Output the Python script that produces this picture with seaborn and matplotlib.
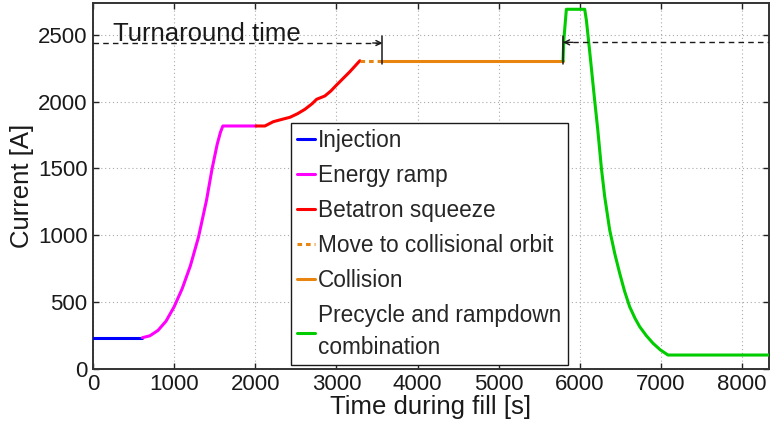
import numpy as np
import pandas as pd
import matplotlib
matplotlib.use("Agg")
import matplotlib.pyplot as plt
import seaborn as sns

# ---------------- data ----------------
phases = ["Injection", "Energy ramp", "Betatron squeeze",
          "Move to collisional orbit", "Collision",
          "Precycle and rampdown\ncombination"]

inj_t = [0, 608]
inj_i = [231, 231]

ramp_t = [608, 700, 800, 900, 1000, 1100, 1200, 1300, 1400, 1466, 1530, 1570, 1600, 2010]
ramp_i = [231, 245, 285, 355, 463, 600, 770, 985, 1265, 1493, 1680, 1770, 1818, 1818]

sq_t = [2010, 2118, 2221, 2330, 2426, 2520, 2611, 2700, 2755, 2857, 2930, 3001, 3165, 3288]
sq_i = [1818, 1818, 1850, 1868, 1883, 1910, 1943, 1985, 2018, 2043, 2080, 2125, 2225, 2307]

move_t = [3288, 3567]
move_i = [2307, 2307]

coll_t = [3567, 5792]
coll_i = [2307, 2307]

prec_t = [5792, 5800, 5833, 6059, 6080, 6130, 6180, 6220, 6265, 6305, 6367, 6430,
          6490, 6550, 6613, 6680, 6737, 6820, 6901, 6990, 7085, 8330]
prec_i = [2307, 2450, 2693, 2693, 2610, 2320, 2020, 1790, 1500, 1290, 1038, 860,
          714, 580, 463, 375, 313, 245, 189, 140, 101, 101]

# turnaround-time annotation
ta_left_end = 3567
ta_right_start = 5792
ta_arrow_level = 2440
ta_bar_lo, ta_bar_hi = 2285, 2490
ta_text = "Turnaround time"
ta_text_pos = (243, 2455)

x_ticks = [0, 1000, 2000, 3000, 4000, 5000, 6000, 7000, 8000]
y_ticks = [0, 500, 1000, 1500, 2000, 2500]
x_max = 8330
y_max = 2740

colors = ["#0000ff", "#ff00ff", "#ff0000", "#e8850f", "#e8850f", "#00cc00"]

# ---------------- frame ----------------
segs = [(inj_t, inj_i), (ramp_t, ramp_i), (sq_t, sq_i),
        (move_t, move_i), (coll_t, coll_i), (prec_t, prec_i)]
rows = []
for name, (t, i) in zip(phases, segs):
    for a, b in zip(t, i):
        rows.append({"time": a, "current": b, "phase": name})
df = pd.DataFrame(rows)

sns.set_theme(style="ticks")
plt.rcParams["font.family"] = ["Liberation Sans", "DejaVu Sans"]

fig = plt.figure(figsize=(7.7, 4.23), dpi=100)
ax = fig.add_axes([93 / 770, 1 - 368.5 / 423, (769 - 93) / 770, (368.5 - 3) / 423])

palette = dict(zip(phases, colors))
dashes = {p: "" for p in phases}
dashes["Move to collisional orbit"] = (1.5, 1.3)

sns.lineplot(data=df, x="time", y="current", hue="phase", style="phase",
             hue_order=phases, style_order=phases, palette=palette,
             dashes=dashes, estimator=None, sort=False, units="phase",
             linewidth=2.2, legend=False, ax=ax, zorder=3)

# annotations
for xb in (ta_left_end, ta_right_start):
    ax.plot([xb, xb], [ta_bar_lo, ta_bar_hi], color="k", lw=1.1, zorder=4)
ax.plot([0, ta_left_end], [ta_arrow_level, ta_arrow_level], color="k",
        lw=1.0, ls=(0, (4, 3)), zorder=4)
ax.plot([ta_right_start, x_max], [ta_arrow_level + 5, ta_arrow_level + 5],
        color="k", lw=1.0, ls=(0, (4, 3)), zorder=4)
ax.annotate("", xy=(ta_left_end, ta_arrow_level),
            xytext=(ta_left_end - 120, ta_arrow_level),
            arrowprops=dict(arrowstyle="->", color="k", lw=1.0,
                            mutation_scale=9, shrinkA=0, shrinkB=0))
ax.annotate("", xy=(ta_right_start, ta_arrow_level + 5),
            xytext=(ta_right_start + 120, ta_arrow_level + 5),
            arrowprops=dict(arrowstyle="->", color="k", lw=1.0,
                            mutation_scale=9, shrinkA=0, shrinkB=0))
ax.text(ta_text_pos[0], ta_text_pos[1], ta_text, fontsize=18.5,
        ha="left", va="baseline", color="k", zorder=5)

ax.set_xlim(0, x_max)
ax.set_ylim(0, y_max)
ax.set_xticks(x_ticks)
ax.set_yticks(y_ticks)
ax.tick_params(axis="both", which="major", direction="in", length=4.5,
               width=1.0, top=True, right=True, labelsize=16, pad=4,
               color="#222222", labelcolor="k")
ax.grid(True, linestyle=(0, (1, 2.5)), color="#aaaaaa", linewidth=0.8)
for s in ax.spines.values():
    s.set_color("#333333")
    s.set_linewidth(1.4)

ax.set_xlabel("Time during fill [s]", fontsize=18.5, labelpad=0, color="k")
ax.set_ylabel("Current [A]", fontsize=18.5, labelpad=3, color="k")

handles = ax.lines[:6]
leg = ax.legend(handles, phases, loc="upper left",
                bbox_to_anchor=(0.2925, 0.671), borderaxespad=0,
                fontsize=16.3, handlelength=0.8, handletextpad=0.15,
                labelspacing=0.53, borderpad=0.27, fancybox=False,
                framealpha=1, edgecolor="k", facecolor="white")
leg.get_frame().set_linewidth(1.0)
for txt in leg.get_texts():
    txt.set_linespacing(1.5)
leg.set_zorder(6)

fig.savefig("out.png", dpi=100)
